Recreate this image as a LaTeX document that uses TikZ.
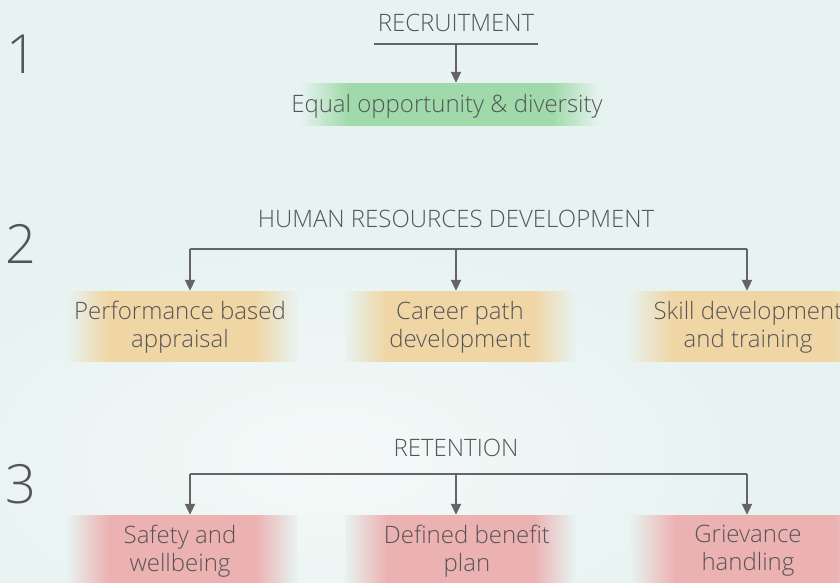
\documentclass[tikz,border=0pt]{standalone}
\usepackage{fontspec}
\setmainfont{Open Sans Light}
\usetikzlibrary{arrows.meta}
\definecolor{bgc}{RGB}{231,243,241}
\definecolor{glowc}{RGB}{244,249,248}
\definecolor{txtc}{RGB}{85,85,88}
\definecolor{linec}{RGB}{100,100,104}
\definecolor{grn}{RGB}{160,218,170}
\definecolor{org}{RGB}{240,214,165}
\definecolor{rd}{RGB}{236,178,178}
\pgfdeclarehorizontalshading{greenband}{100bp}{color(0bp)=(bgc); color(25bp)=(bgc); color(33bp)=(grn); color(67bp)=(grn); color(75bp)=(bgc); color(100bp)=(bgc)}
\pgfdeclarehorizontalshading{orangeband}{100bp}{color(0bp)=(bgc); color(25bp)=(bgc); color(34bp)=(org); color(66bp)=(org); color(75bp)=(bgc); color(100bp)=(bgc)}
\pgfdeclarehorizontalshading{redband}{100bp}{color(0bp)=(bgc); color(25bp)=(bgc); color(34bp)=(rd); color(66bp)=(rd); color(75bp)=(bgc); color(100bp)=(bgc)}
\tikzset{
  lbl/.style={text=txtc, font=\fontsize{24}{28}\selectfont, align=center, inner sep=0pt},
  num/.style={text=txtc, font=\fontsize{54}{54}\selectfont, inner sep=0pt},
  band/.style={shade, shading=#1, draw=none, inner sep=0pt, minimum height=70pt},
  conn/.style={draw=linec, line width=2pt},
  arr/.style={conn, -{Triangle[length=11pt,width=10pt]}}
}
\begin{document}
\begin{tikzpicture}[x=1pt,y=-1pt]
\fill[bgc] (0,0) rectangle (840,582);
\begin{scope}
\clip (0,0) rectangle (840,582);
\shade[inner color=glowc, outer color=bgc] (330,460) ellipse [x radius=420, y radius=220];
\end{scope}
\useasboundingbox (0,0) rectangle (840,582);
% numbers
\node[num] (n1) at (22,54) {1};
\node[num] (n2) at (21,244) {2};
\node[num] (n3) at (21,484) {3};
% level 1
\node[lbl] (t1) at (456,23) {RECRUITMENT};
\coordinate (b1l) at (374,44);
\coordinate (b1r) at (538,44);
\coordinate (b1m) at (456,44);
\node[band=greenband, minimum width=300pt, minimum height=42pt] (g1) at (450,104) {};
\node[lbl] (e1) at (447,106) {Equal opportunity \& diversity};
\draw[conn] (b1l) -- (b1r);
\draw[arr] (b1m) -- (b1m |- g1.north);
% level 2
\node[lbl] (t2) at (456,219) {HUMAN RESOURCES DEVELOPMENT};
\node[band=orangeband, minimum width=230pt] (o1) at (182,326) {};
\node[band=orangeband, minimum width=230pt] (o2) at (460,326) {};
\node[band=orangeband, minimum width=250pt] (o3) at (752,326) {};
\node[lbl] (p1) at (180,327) {Performance based\\appraisal};
\node[lbl] (p2) at (460,327) {Career path\\development};
\node[lbl] (p3) at (748,327) {Skill development\\and training};
\coordinate (h2l) at (190,249);
\coordinate (h2m) at (456,249);
\coordinate (h2r) at (747,249);
\draw[conn] (h2l) -- (h2r);
\draw[arr] (h2l) -- (h2l |- o1.north);
\draw[arr] (h2m) -- (h2m |- o2.north);
\draw[arr] (h2r) -- (h2r |- o3.north);
% level 3
\node[lbl] (t3) at (456,448) {RETENTION};
\node[band=redband, minimum width=230pt] (r1) at (182,550) {};
\node[band=redband, minimum width=230pt] (r2) at (460,550) {};
\node[band=redband, minimum width=250pt] (r3) at (755,550) {};
\node[lbl] (q1) at (180,551) {Safety and\\wellbeing};
\node[lbl] (q2) at (467,551) {Defined benefit\\plan};
\node[lbl] (q3) at (748,551) {Grievance\\handling};
\coordinate (h3l) at (190,474);
\coordinate (h3m) at (456,474);
\coordinate (h3r) at (747,474);
\draw[conn] (h3l) -- (h3r);
\draw[arr] (h3l) -- (h3l |- r1.north);
\draw[arr] (h3m) -- (h3m |- r2.north);
\draw[arr] (h3r) -- (h3r |- r3.north);
\end{tikzpicture}
\end{document}
